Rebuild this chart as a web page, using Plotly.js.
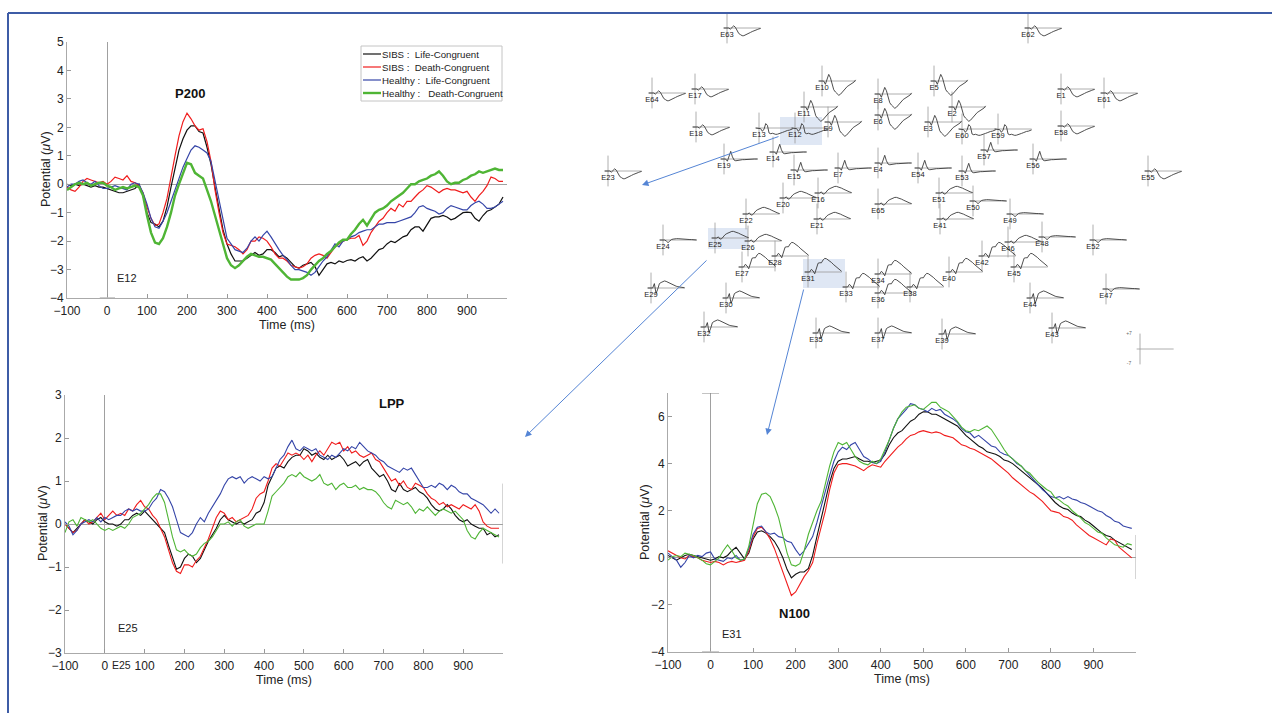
<!DOCTYPE html>
<html><head><meta charset="utf-8">
<script src="https://cdn.plot.ly/plotly-3.0.1.min.js"></script>
<style>html,body{margin:0;padding:0;background:#fff;}#chart{width:1272px;height:713px;}</style>
</head><body><div id="chart"></div>
<script>
// ---------- DATA ----------
const seriesNames = ['SIBS :\u00a0 Life-Congruent','SIBS :\u00a0 Death-Congruent','Healthy :\u00a0 Life-Congruent','Healthy :\u00a0\u00a0 Death-Congruent'];
const timeStart = -100, timeStep = 10; // samples from -100 ms to 990 ms
const xTickVals = [-100,0,100,200,300,400,500,600,700,800,900];

// Electrode E12 (P200)
const e12_sibsLife = [0,-0.05,0,-0.05,0,-0.05,-0.1,-0.05,-0.1,-0.1,
 -0.15,-0.2,-0.25,-0.3,-0.3,-0.25,-0.2,-0.15,0,-0.4,
 -1.0,-1.35,-1.4,-1.5,-1.3,-0.8,-0.1,0.6,1.2,1.6,
 1.9,2.05,2.05,1.85,1.8,1.3,0.7,-0.1,-0.9,-1.6,
 -2.1,-2.45,-2.7,-2.7,-2.7,-2.6,-2.5,-2.4,-2.5,-2.45,
 -2.3,-2.3,-2.4,-2.55,-2.5,-2.6,-2.75,-2.9,-2.95,-2.85,
 -2.8,-2.75,-2.9,-3.2,-3.0,-2.8,-2.75,-2.8,-2.7,-2.75,
 -2.68,-2.65,-2.7,-2.6,-2.55,-2.7,-2.6,-2.45,-2.3,-2.25,
 -2.1,-2.0,-2.05,-1.95,-1.85,-1.8,-1.6,-1.5,-1.5,-1.65,
 -1.4,-1.2,-1.15,-1.15,-1.1,-1.15,-1.25,-1.2,-1.1,-1.0,
 -0.98,-1.0,-1.2,-1.3,-1.1,-0.95,-0.9,-0.8,-0.7,-0.45];
const e12_sibsDeath = [-0.1,-0.2,-0.25,-0.1,0.1,0.2,0.15,0.1,0.05,0.1,
 0.0,0.1,0.25,0.2,0.15,0.3,0.1,0.05,-0.05,-0.3,
 -0.8,-1.2,-1.45,-1.4,-1.0,-0.5,0.3,1.0,1.7,2.2,
 2.5,2.3,2.05,1.9,1.95,1.5,0.8,-0.2,-1.0,-1.7,
 -2.1,-2.15,-2.2,-2.3,-2.45,-2.3,-2.0,-2.0,-1.85,-1.9,
 -2.0,-2.2,-2.45,-2.6,-2.6,-2.7,-2.85,-2.9,-2.95,-2.9,
 -2.8,-2.6,-2.5,-2.45,-2.5,-2.6,-2.4,-2.2,-2.1,-2.0,
 -1.95,-1.9,-1.9,-1.8,-2.15,-2.0,-1.7,-1.5,-1.3,-1.2,
 -1.0,-0.85,-0.95,-0.7,-0.8,-0.6,-0.6,-0.45,-0.3,-0.2,
 -0.05,-0.1,-0.2,-0.3,-0.2,-0.15,-0.2,-0.2,-0.25,-0.3,
 -0.25,-0.45,-0.6,-0.4,-0.25,-0.05,0.25,0.2,0.1,0.1];
const e12_healthyLife = [-0.1,0,0,0.1,0.15,0.05,0,0.1,-0.05,-0.15,
 -0.15,-0.1,-0.05,-0.1,-0.15,-0.2,0.0,0.05,0.0,-0.3,
 -0.7,-1.2,-1.5,-1.55,-1.3,-1.0,-0.6,-0.2,0.2,0.6,
 0.9,1.2,1.35,1.3,1.2,1.1,0.8,0.1,-0.6,-1.3,
 -1.9,-2.1,-2.3,-2.35,-2.4,-2.25,-2.0,-1.85,-2.0,-1.8,
 -1.65,-1.85,-2.1,-2.3,-2.5,-2.65,-2.85,-3.0,-3.0,-3.05,
 -3.1,-3.2,-3.1,-2.9,-2.7,-2.55,-2.3,-2.1,-2.2,-2.0,
 -1.95,-1.85,-1.8,-1.7,-1.65,-1.6,-1.6,-1.5,-1.4,-1.4,
 -1.35,-1.35,-1.35,-1.3,-1.25,-1.2,-1.15,-1.0,-0.8,-0.75,
 -0.85,-0.9,-0.95,-1.05,-1.0,-0.85,-0.75,-0.8,-0.85,-0.9,
 -0.9,-0.75,-0.65,-0.6,-0.7,-0.85,-0.85,-0.8,-0.7,-0.6];
const e12_healthyDeath = [-0.2,-0.1,0,0.05,0,0.05,-0.05,0,0.05,0.05,
 -0.05,-0.1,-0.2,-0.15,-0.1,-0.15,-0.1,-0.05,-0.1,-0.4,
 -1.1,-1.7,-2.05,-2.1,-1.9,-1.5,-1.0,-0.4,0.0,0.4,
 0.75,0.7,0.4,0.3,0.2,-0.2,-0.6,-1.1,-1.6,-2.1,
 -2.6,-2.85,-2.95,-2.85,-2.7,-2.55,-2.45,-2.5,-2.55,-2.55,
 -2.6,-2.65,-2.8,-2.95,-3.1,-3.25,-3.35,-3.35,-3.35,-3.3,
 -3.2,-3.0,-2.85,-2.7,-2.6,-2.45,-2.35,-2.2,-2.05,-1.95,
 -1.95,-1.75,-1.6,-1.4,-1.25,-1.45,-1.2,-1.0,-0.9,-0.85,
 -0.75,-0.6,-0.5,-0.4,-0.3,-0.15,0.0,0.0,0.1,0.15,
 0.2,0.3,0.35,0.45,0.3,0.1,0.0,0.05,0.05,0.15,
 0.2,0.3,0.35,0.45,0.4,0.45,0.5,0.55,0.5,0.5];

// Electrode E25 (LPP)
const e25_sibsLife = [0.0,-0.1,-0.2,-0.1,0.0,0.1,0.05,0.0,0.1,0.15,
 0.05,0.0,0.0,-0.05,0.0,0.1,0.1,0.2,0.25,0.2,
 0.3,0.2,0.1,0.0,-0.1,-0.2,-0.5,-0.8,-1.05,-1.0,
 -0.8,-0.7,-0.75,-0.9,-0.8,-0.6,-0.4,-0.25,-0.1,0.1,
 0.2,0.1,0.05,0.0,0.05,0.0,0.05,0.1,0.25,0.3,
 0.5,0.9,1.1,1.3,1.35,1.3,1.45,1.55,1.6,1.6,
 1.75,1.7,1.6,1.65,1.55,1.5,1.6,1.5,1.55,1.6,
 1.5,1.35,1.4,1.45,1.35,1.45,1.5,1.3,1.2,1.1,
 1.15,1.0,0.8,0.75,0.95,0.8,0.75,0.8,0.85,0.75,
 0.7,0.6,0.45,0.35,0.3,0.35,0.45,0.35,0.2,0.1,
 0.05,0.1,0.0,-0.05,-0.1,-0.1,-0.25,-0.2,-0.3,-0.25];
const e25_sibsDeath = [0.0,-0.1,-0.2,-0.15,0.0,0.1,0.0,0.05,0.15,0.25,
 0.1,0.2,0.3,0.2,0.25,0.2,0.35,0.3,0.45,0.55,
 0.4,0.35,0.2,0.1,-0.1,-0.3,-0.6,-0.9,-1.1,-1.15,
 -0.95,-0.95,-1.0,-0.85,-0.75,-0.55,-0.35,-0.1,0.15,0.3,
 0.25,0.1,0.15,0.05,0.1,0.15,0.2,0.35,0.6,0.7,
 0.75,1.0,1.3,1.4,1.35,1.5,1.65,1.6,1.65,1.6,
 1.5,1.6,1.45,1.6,1.7,1.6,1.75,1.9,1.85,1.9,
 1.7,1.8,1.65,1.7,1.6,1.55,1.6,1.65,1.5,1.45,
 1.3,1.15,1.0,1.05,0.9,1.0,0.85,0.8,0.95,0.9,
 0.85,0.7,0.6,0.55,0.45,0.5,0.4,0.45,0.4,0.35,
 0.45,0.4,0.35,0.45,0.3,0.05,-0.05,-0.1,-0.1,-0.1];
const e25_healthyLife = [0.05,-0.05,-0.25,-0.15,0.0,0.05,0.1,0.05,0.15,0.05,
 0.15,0.1,0.15,0.2,0.2,0.3,0.35,0.3,0.35,0.3,
 0.3,0.35,0.5,0.6,0.8,0.75,0.6,0.4,0.1,-0.2,
 -0.25,-0.3,-0.2,0.0,0.15,0.05,0.25,0.4,0.55,0.7,
 0.9,1.05,1.1,1.05,1.1,0.95,1.05,1.1,1.05,1.0,
 1.1,1.05,1.1,1.3,1.5,1.6,1.8,1.95,1.75,1.7,
 1.8,1.75,1.7,1.75,1.6,1.55,1.5,1.6,1.55,1.65,
 1.75,1.7,1.8,1.75,1.9,1.8,1.7,1.65,1.6,1.5,
 1.45,1.35,1.3,1.25,1.2,1.3,1.25,1.3,1.15,1.0,
 0.85,0.85,0.9,0.85,0.95,0.9,0.8,0.9,0.85,0.75,
 0.7,0.7,0.6,0.55,0.5,0.45,0.35,0.25,0.35,0.25];
const e25_healthyDeath = [-0.2,0.05,0.1,-0.05,0.15,0.1,0.05,0.1,0.0,-0.1,
 -0.15,-0.1,-0.15,-0.1,-0.05,-0.1,0.0,0.15,0.2,0.25,
 0.35,0.45,0.6,0.7,0.7,0.5,0.1,-0.3,-0.6,-0.65,
 -0.6,-0.7,-0.75,-0.7,-0.55,-0.45,-0.4,-0.3,-0.15,0.0,
 0.0,0.05,-0.05,0.05,0.1,-0.05,-0.1,-0.05,0.0,0.0,
 0.0,0.3,0.65,0.75,0.85,0.95,1.1,1.15,1.1,1.2,
 1.1,1.05,1.0,1.05,1.15,0.95,0.9,0.95,0.8,0.9,
 0.95,0.85,0.85,0.9,0.8,0.85,0.8,0.8,0.75,0.65,
 0.5,0.4,0.35,0.55,0.5,0.45,0.5,0.4,0.25,0.35,
 0.3,0.4,0.3,0.2,0.3,0.35,0.3,0.25,0.3,0.2,
 0.1,-0.15,-0.3,-0.35,-0.2,-0.1,-0.15,-0.2,-0.25,-0.3];

// Electrode E31 (N100)
const e31_sibsLife = [0.1,0.0,-0.1,0.0,0.1,0.15,0.1,0.05,0.0,-0.05,
 -0.1,-0.05,0.05,0.0,0.1,0.3,0.45,0.2,-0.05,0.2,
 0.8,1.1,1.15,1.05,0.9,0.7,0.4,0.0,-0.5,-0.85,
 -0.7,-0.6,-0.6,-0.45,0.1,0.9,1.7,2.5,3.2,3.8,
 4.1,4.2,4.2,4.25,4.3,4.2,4.1,4.1,4.05,4.1,
 4.15,4.4,4.8,5.1,5.3,5.4,5.6,5.8,5.9,6.1,
 6.2,6.2,6.1,6.1,6.0,5.9,5.8,5.7,5.6,5.4,
 5.2,5.05,4.9,4.75,4.65,4.5,4.45,4.4,4.3,4.15,
 4.1,4.0,3.85,3.7,3.55,3.4,3.25,3.1,2.95,2.75,
 2.55,2.35,2.2,2.1,2.05,1.9,1.8,1.75,1.6,1.5,
 1.35,1.2,1.05,0.95,0.9,0.75,0.65,0.55,0.45,0.35];
const e31_sibsDeath = [0.3,0.2,0.1,0.0,-0.05,0.1,0.05,0.0,-0.1,-0.15,
 -0.2,-0.15,-0.2,-0.3,-0.2,-0.15,-0.2,-0.15,-0.1,0.3,
 0.9,1.25,1.3,1.1,0.8,0.4,-0.1,-0.6,-1.1,-1.6,
 -1.45,-1.1,-0.8,-0.55,-0.2,0.6,1.3,2.0,2.9,3.6,
 3.95,4.0,4.0,3.95,3.9,3.8,3.7,3.85,3.95,3.9,
 3.85,4.1,4.3,4.5,4.7,4.85,5.05,5.2,5.25,5.35,
 5.4,5.35,5.3,5.35,5.3,5.2,5.15,5.1,4.95,4.8,
 4.75,4.65,4.6,4.5,4.4,4.3,4.2,4.05,3.9,3.75,
 3.6,3.4,3.25,3.1,2.95,2.8,2.7,2.55,2.4,2.2,
 2.0,1.95,1.9,1.75,1.7,1.6,1.4,1.25,1.1,0.95,
 0.85,0.75,0.65,0.55,0.8,0.75,0.45,0.3,0.15,0.0];
const e31_healthyLife = [0.2,0.05,-0.1,-0.4,-0.2,0.1,0.0,0.1,0.05,0.2,
 0.25,-0.05,-0.1,-0.15,0.0,-0.05,0.1,-0.1,-0.05,0.4,
 1.0,1.3,1.35,1.1,1.0,1.05,0.9,0.85,0.7,0.65,
 0.35,0.1,0.3,0.6,0.9,1.5,2.2,2.9,3.5,4.1,
 4.5,4.7,4.6,4.8,4.9,4.6,4.3,4.2,4.05,4.0,
 4.1,4.5,5.0,5.5,5.9,6.1,6.3,6.55,6.5,6.35,
 6.3,6.2,6.35,6.25,6.3,6.1,6.0,5.9,5.75,5.5,
 5.35,5.3,5.1,5.2,5.05,4.9,4.75,4.7,4.5,4.4,
 4.35,4.2,4.0,3.9,3.7,3.5,3.3,3.1,2.9,2.75,
 2.6,2.55,2.6,2.5,2.6,2.5,2.45,2.35,2.3,2.2,
 2.1,2.0,1.95,1.8,1.7,1.55,1.5,1.35,1.3,1.25];
const e31_healthyDeath = [-0.1,0.05,0.1,0.05,0.2,0.15,0.1,0.0,-0.1,-0.25,
 -0.3,-0.15,0.0,0.3,0.55,0.3,0.0,-0.1,-0.05,0.5,
 1.4,2.3,2.7,2.75,2.6,2.2,1.7,1.0,0.2,-0.3,
 -0.35,-0.25,0.3,1.0,1.5,2.0,2.4,3.2,3.9,4.5,
 4.9,4.8,4.9,4.6,4.3,4.1,4.0,3.95,4.1,4.0,
 4.2,4.6,5.0,5.5,5.9,6.2,6.4,6.45,6.5,6.35,
 6.3,6.45,6.6,6.6,6.4,6.3,6.2,6.0,5.8,5.55,
 5.4,5.35,5.45,5.4,5.5,5.6,5.45,5.2,4.9,4.6,
 4.35,4.2,4.05,3.9,3.7,3.6,3.4,3.2,3.05,2.9,
 2.8,2.55,2.45,2.3,2.2,2.0,1.85,1.7,1.5,1.4,
 1.25,1.1,1.05,0.85,0.7,0.55,0.5,0.45,0.6,0.55];

// Montage: electrode names, scalp positions and waveform shape group
const electrodeNames = ['E63','E62','E64','E17','E10','E5','E1','E61','E8','E11','E2','E18','E13','E12','E9','E6','E3','E60','E59','E58','E14','E19','E23','E15','E7','E4','E54','E53','E57','E56','E55','E20','E16','E65','E51','E50','E22','E21','E41','E49','E24','E25','E26','E46','E48','E52','E28','E27','E31','E42','E45','E40','E33','E34','E38','E36','E29','E30','E44','E47','E32','E35','E37','E39','E43'];
const electrodeX = [727,1028,652,695,822,934,1061,1104,878,804,952,696,759,795,828,878,928,962,998,1061,773,724,608,794,838,878,918,962,984,1033,1148,783,818,878,939,973,746,817,940,1010,663,715,748,1008,1042,1093,775,742,808,982,1014,949,846,878,910,878,651,726,1030,1106,704,816,878,942,1052];
const electrodeY = [28,28,93,89,81,81,89,93,94,107,107,127,128,128,122,115,122,129,129,126,152,159,171,170,168,163,168,171,150,159,171,198,193,204,193,201,214,219,219,214,240,238,241,242,237,240,256,267,272,256,267,272,287,274,287,293,288,298,298,289,327,333,333,334,328];
const electrodeGroup = ['F','F','F','F','F2','F2','F','F','F2','F2','F2','F','F3','F3','F2','F2','F2','F3','F3','F','C','C','F','C','C','C','C','C','C','C','F','P','P','P','P','Fl','P','P','P','Fl','Fl','P','P','P','Fl','Fl','P2','P2','P2','P2','P2','P2','P2','P2','P2','P2','O','O','O','Fl','O','O','O','O','O'];
const miniTimes = [-100,-50,0,50,100,150,200,250,300,350,400,450,500,550,600,650,700,750,800,850,900,950,1000];
const miniWaves = {
 F:  [0,0,0,0,-0.5,0.3,1,0.3,-1.5,-2.5,-3,-3.5,-3.5,-3.2,-2.8,-2.4,-2,-1.6,-1.2,-1,-0.7,-0.4,-0.2],
 F2: [0,0,0,0,-1.5,0.5,3,1.5,-2,-4,-5,-6,-6.5,-6,-5,-4,-3,-2.5,-2,-1.5,-1,-0.5,0.5],
 F3: [0,0,0,-0.3,-1.5,-0.5,2,1.2,-2.3,-2.6,-2.4,-2.8,-2.9,-2.8,-2.6,-2.5,-2,-1.7,-1.3,-1.1,-1,-0.8,-0.4],
 C:  [0,0,0,0,-1,1,3.5,1,-0.5,-0.8,-0.6,-0.5,-0.4,-0.3,-0.3,-0.2,-0.2,-0.1,0,0,0,0,0],
 P:  [0,0,0,0,0.5,-0.5,-0.3,0.8,1.5,2,2.3,2.8,3,3,2.8,2.5,2.2,1.8,1.4,1,0.7,0.4,0.2],
 P2: [0,0,0,0,1.2,0.5,-0.8,1.5,4,4.2,4.2,5.5,6.2,6,5.5,5,4.3,3.5,2.8,2,1.4,0.8,0.3],
 O:  [0,0,0,0,2,-2.5,-0.5,2,2.5,3,3.2,3,2.6,2.2,1.8,1.4,1.1,0.8,0.6,0.4,0.3,0.2,0.1],
 Fl: [0,0,0,0,-0.5,-1.2,-0.5,0.2,0.4,0.6,0.6,0.6,0.5,0.5,0.4,0.4,0.3,0.3,0.2,0.2,0.1,0.1,0]
};
const scaleKey = {x:1140, y:349, top:'+7', bottom:'-7'};

// ---------- BUILD ----------
const W = 1272, H = 713;
const FONT = 'Liberation Sans, Arial, Helvetica, sans-serif';
const colors = ['#111111','#f01d1d','#3545a8','#4fb535'];
const times = e12_sibsLife.map((_, i) => timeStart + i * timeStep);

const groups = [
  {ax:'', series:[e12_sibsLife,e12_sibsDeath,e12_healthyLife,e12_healthyDeath], widths:[1.2,1.2,1.2,2.4]},
  {ax:'2', series:[e25_sibsLife,e25_sibsDeath,e25_healthyLife,e25_healthyDeath], widths:[1.1,1.1,1.1,1.1]},
  {ax:'3', series:[e31_sibsLife,e31_sibsDeath,e31_healthyLife,e31_healthyDeath], widths:[1.1,1.1,1.1,1.1]}
];
const traces = [];
groups.forEach(g => {
  g.series.forEach((s, k) => {
    traces.push({
      x: times, y: s, type:'scatter', mode:'lines',
      xaxis:'x'+g.ax, yaxis:'y'+g.ax,
      name: seriesNames[k], showlegend: false,
      line:{color:colors[k], width:g.widths[k]},
      hoverinfo:'skip'
    });
  });
});

// montage
const sx = 37/1100, sy = 2.2;
const mx = [], my = [], axX = [], axY = [], lx = [], ly = [];
electrodeNames.forEach((nm, i) => {
  const ex = electrodeX[i], ey = electrodeY[i], w = miniWaves[electrodeGroup[i]];
  miniTimes.forEach((t, j) => { mx.push(ex + t*sx); my.push(ey - w[j]*sy); });
  mx.push(null); my.push(null);
  axX.push(ex - 100*sx, ex + 1000*sx, null, ex, ex, null);
  axY.push(ey, ey, null, ey - 7*sy, ey + 7*sy, null);
  lx.push(ex); ly.push(ey + 7);
});
axX.push(scaleKey.x - 100*sx, scaleKey.x + 1000*sx, null, scaleKey.x, scaleKey.x, null);
axY.push(scaleKey.y, scaleKey.y, null, scaleKey.y - 7*sy, scaleKey.y + 7*sy, null);
traces.push({x:axX, y:axY, type:'scatter', mode:'lines', xaxis:'x4', yaxis:'y4', showlegend:false, hoverinfo:'skip', line:{color:'#9a9a9a', width:0.8}});
traces.push({x:mx, y:my, type:'scatter', mode:'lines', xaxis:'x4', yaxis:'y4', showlegend:false, hoverinfo:'skip', line:{color:'#3a3a3a', width:0.9}});
traces.push({x:lx, y:ly, text:electrodeNames, type:'scatter', mode:'text', xaxis:'x4', yaxis:'y4', showlegend:false, hoverinfo:'skip', textfont:{family:FONT, size:7.5, color:'#222'}});
traces.push({x:[scaleKey.x-11, scaleKey.x-11], y:[scaleKey.y-15, scaleKey.y+15], text:[scaleKey.top, scaleKey.bottom], type:'scatter', mode:'text', xaxis:'x4', yaxis:'y4', showlegend:false, hoverinfo:'skip', textfont:{family:FONT, size:5, color:'#666'}});

function px2x(p){ return p / W; }
function py2y(p){ return 1 - p / H; }

function xa(dom){
  return {domain:dom, range:[-100,1000], tickvals:xTickVals, ticks:'inside', ticklen:4, tickcolor:'#999',
    showline:true, linecolor:'#aaa', linewidth:1, showgrid:false, zeroline:true, zerolinecolor:'#a0a0a0', zerolinewidth:1,
    ticklabelstandoff:2,
    tickfont:{family:FONT, size:12, color:'#222'}, title:{text:'Time (ms)', font:{family:FONT, size:12.5, color:'#222'}, standoff:2}};
}
function ya(dom, rng, ticks, anchor){
  return {domain:dom, range:rng, tickvals:ticks, ticks:'inside', ticklen:4, tickcolor:'#999', anchor:anchor,
    showline:true, linecolor:'#aaa', linewidth:1, showgrid:false, zeroline:true, zerolinecolor:'#a0a0a0', zerolinewidth:1,
    tickfont:{family:FONT, size:12, color:'#222'}};
}

// manual legend (compact, like the original)
const legendBox = {x0:361, x1:502, y0:46, y1:101, rowTop:54, rowStep:13, lineLen:18};
const legendShapes = [{type:'rect', xref:'x4', yref:'y4', x0:legendBox.x0, x1:legendBox.x1, y0:legendBox.y0, y1:legendBox.y1, line:{color:'#c4c4c4', width:1}, fillcolor:'#fff', layer:'above'}];
const legendAnn = [];
seriesNames.forEach((nm, k) => {
  const yy = legendBox.rowTop + k*legendBox.rowStep;
  legendShapes.push({type:'line', xref:'x4', yref:'y4', x0:legendBox.x0+2, x1:legendBox.x0+2+legendBox.lineLen, y0:yy, y1:yy, line:{color:colors[k], width:groups[0].widths[k]}, layer:'above'});
  legendAnn.push({xref:'x4', yref:'y4', x:legendBox.x0+1+legendBox.lineLen, y:yy, xanchor:'left', yanchor:'middle', text:nm, showarrow:false, font:{family:FONT, size:9.7, color:'#222'}});
});

// y-axis titles placed like the original
const yTitleText = 'Potential (<i>μ</i>V)';
const yTitles = [[46,169],[43,523],[645,522]].map(p => ({xref:'x4', yref:'y4', x:p[0], y:p[1], text:yTitleText, textangle:-90, showarrow:false, font:{family:FONT, size:12.5, color:'#222'}}));

const layout = {
  width:W, height:H, margin:{l:0,r:0,t:0,b:0}, paper_bgcolor:'#fff', plot_bgcolor:'rgba(0,0,0,0)',
  font:{family:FONT, color:'#222'}, showlegend:false,
  xaxis: Object.assign(xa([px2x(67), px2x(507)]), {anchor:'y'}),
  yaxis: ya([py2y(298), py2y(42)], [-4,5], [-4,-3,-2,-1,0,1,2,3,4,5], 'x'),
  xaxis2: Object.assign(xa([px2x(65), px2x(503)]), {anchor:'y2'}),
  yaxis2: ya([py2y(653), py2y(395)], [-3,3], [-3,-2,-1,0,1,2,3], 'x2'),
  xaxis3: Object.assign(xa([px2x(668), px2x(1136)]), {anchor:'y3'}),
  yaxis3: ya([py2y(652), py2y(393)], [-4,7], [-4,-2,0,2,4,6], 'x3'),
  xaxis4: {domain:[0,1], range:[0,W], visible:false, anchor:'y4', fixedrange:true},
  yaxis4: {domain:[0,1], range:[H,0], visible:false, anchor:'x4', fixedrange:true},
  annotations:[
    {xref:'x', yref:'y', x:207, y:3.2, text:'<b>P200</b>', showarrow:false, font:{family:FONT, size:13, color:'#111'}},
    {xref:'x', yref:'y', x:50, y:-3.3, text:'E12', showarrow:false, font:{family:FONT, size:11, color:'#222'}},
    {xref:'x2', yref:'y2', x:720, y:2.8, text:'<b>LPP</b>', showarrow:false, font:{family:FONT, size:13, color:'#111'}},
    {xref:'x2', yref:'y2', x:58, y:-2.41, text:'E25', showarrow:false, font:{family:FONT, size:11, color:'#222'}},
    {xref:'x4', yref:'y4', x:121, y:665, text:'E25', showarrow:false, font:{family:FONT, size:10.5, color:'#222'}},
    {xref:'x3', yref:'y3', x:198, y:-2.35, text:'<b>N100</b>', showarrow:false, font:{family:FONT, size:13, color:'#111'}},
    {xref:'x3', yref:'y3', x:50, y:-3.25, text:'E31', showarrow:false, font:{family:FONT, size:11, color:'#222'}},
    {xref:'x4', yref:'y4', axref:'x4', ayref:'y4', x:642, y:185, ax:780, ay:136, text:'', showarrow:true, arrowhead:2, arrowsize:1.3, arrowwidth:1, arrowcolor:'#5585d5'},
    {xref:'x4', yref:'y4', axref:'x4', ayref:'y4', x:525, y:437, ax:708, ay:259, text:'', showarrow:true, arrowhead:2, arrowsize:1.3, arrowwidth:1, arrowcolor:'#5585d5'},
    {xref:'x4', yref:'y4', axref:'x4', ayref:'y4', x:767, y:435, ax:804, ay:288, text:'', showarrow:true, arrowhead:2, arrowsize:1.3, arrowwidth:1, arrowcolor:'#5585d5'}
  ].concat(legendAnn, yTitles),
  shapes:[
    {type:'rect', xref:'x4', yref:'y4', x0:780, x1:822, y0:117, y1:145, fillcolor:'#dfe7f4', line:{width:0}, layer:'below'},
    {type:'rect', xref:'x4', yref:'y4', x0:708, x1:748, y0:228, y1:249, fillcolor:'#dfe7f4', line:{width:0}, layer:'below'},
    {type:'rect', xref:'x4', yref:'y4', x0:803, x1:845, y0:259, y1:288, fillcolor:'#dfe7f4', line:{width:0}, layer:'below'},
    {type:'line', xref:'paper', yref:'paper', x0:px2x(8), x1:1, y0:py2y(13), y1:py2y(13), line:{color:'#3e5ca6', width:2}},
    {type:'line', xref:'paper', yref:'paper', x0:px2x(8), x1:px2x(8), y0:0, y1:py2y(13), line:{color:'#3e5ca6', width:2}},
    {type:'line', xref:'x', yref:'y', x0:-18, x1:20, y0:-4, y1:-4, line:{color:'#bbb', width:1.5}},
    {type:'line', xref:'x3', yref:'y3', x0:-20, x1:20, y0:7, y1:7, line:{color:'#888', width:1}},
    {type:'line', xref:'x3', yref:'y3', x0:-20, x1:20, y0:-4, y1:-4, line:{color:'#bbb', width:1.5}},
    {type:'line', xref:'x2', yref:'y2', x0:1000, x1:1000, y0:0.94, y1:-0.92, line:{color:'#aaa', width:1}},
    {type:'line', xref:'x3', yref:'y3', x0:1000, x1:1000, y0:0.97, y1:-0.9, line:{color:'#aaa', width:1}}
  ].concat(legendShapes)
};
Plotly.newPlot('chart', traces, layout, {staticPlot:true, displayModeBar:false});
</script></body></html>
